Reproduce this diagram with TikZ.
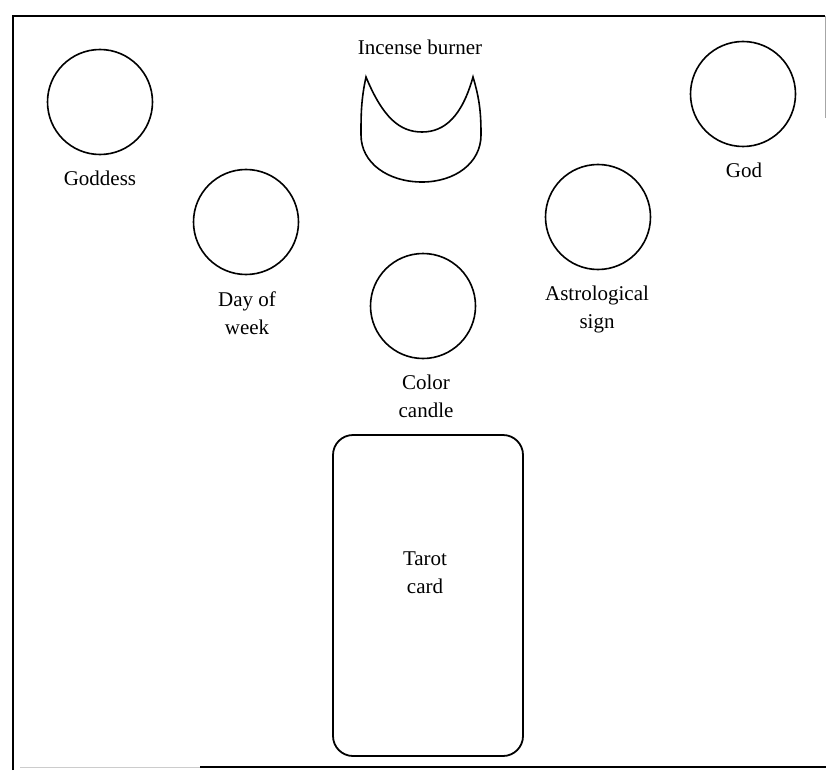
\documentclass[tikz,border=0pt]{standalone}
\usepackage{fontspec}
\setmainfont{Liberation Serif}
\begin{document}
\begin{tikzpicture}[x=1pt,y=-1pt,
  spot/.style={draw, circle, line width=1.6pt, minimum size=105pt, inner sep=0pt},
  lbl/.style={anchor=base, align=center, inner sep=0pt, font=\fontsize{21}{28}\selectfont},
  frameline/.style={line width=1.8pt}]
\useasboundingbox (0,0) rectangle (826,770);
% frame
\coordinate (fTL) at (13,16);
\coordinate (fBL) at (13,770);
\coordinate (fTR) at (825,16);
\coordinate (fRE) at (825,118);
\coordinate (fB1) at (20,767);
\coordinate (fB2) at (200,767);
\coordinate (fB3) at (826,767);
\draw[frameline] (fBL) -- (fTL) -- (fTR);
\draw[line width=1pt, gray!70] (fTR) -- (fRE);
\draw[line width=1pt, gray!40] (fB1) -- (fB2);
\draw[frameline] (fB2) -- (fB3);
% circles
\node[spot] (goddess) at (100,102) {};
\node[lbl] (goddessL) at (100,185) {Goddess};
\node[spot] (god) at (743,94) {};
\node[lbl] (godL) at (744,177) {God};
\node[spot] (day) at (246,222) {};
\node[lbl] (dayL) at (247,334) {Day of\\week};
\node[spot] (astro) at (598,217) {};
\node[lbl] (astroL) at (597,328) {Astrological\\sign};
\node[spot] (candle) at (423,306) {};
\node[lbl] (candleL) at (426,417) {Color\\candle};
% incense burner
\node[lbl] (incL) at (420,55) {Incense burner};
\draw[line width=1.6pt, line join=miter]
  (366,77) .. controls (383,118) and (400,132) .. (422,132)
  .. controls (445,132) and (462,116) .. (473,77)
  .. controls (480,100) and (481,115) .. (481,135)
  .. controls (481,163) and (455,182) .. (422,182)
  .. controls (388,182) and (361,163) .. (361,135)
  .. controls (361,115) and (361,100) .. (366,77) -- cycle;
% tarot card
\draw[line width=1.8pt, rounded corners=20pt] (333,435) rectangle (523,756);
\node[lbl] (tarotL) at (425,593) {Tarot\\card};
\end{tikzpicture}
\end{document}
